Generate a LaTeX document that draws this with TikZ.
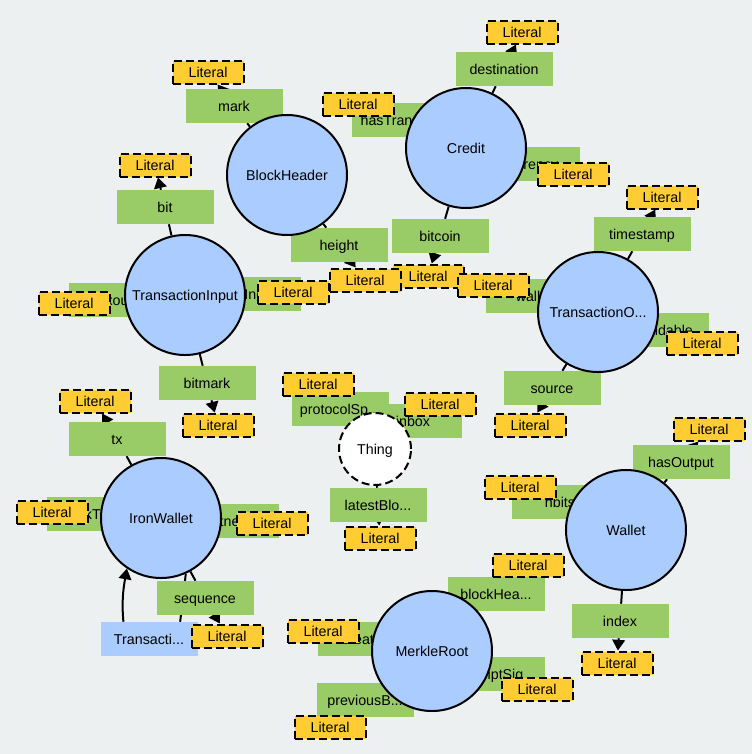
\documentclass[tikz,border=0pt]{standalone}
\usepackage{fontspec}
\setmainfont{Liberation Sans}
\usetikzlibrary{arrows.meta, backgrounds}

\definecolor{bgcol}{HTML}{ECF0F1}
\definecolor{classblue}{HTML}{AACCFF}
\definecolor{propgreen}{HTML}{99CC66}
\definecolor{lityellow}{HTML}{FFCC33}

\begin{document}
\begin{tikzpicture}[x=0.75pt, y=-0.75pt,
  font=\fontsize{10.7}{12}\selectfont, text height=8.4pt, text depth=0pt,
  cls/.style={circle, draw=black, line width=1.5pt, fill=classblue, minimum size=90pt, inner sep=0pt},
  thing/.style={circle, draw=black, line width=1.5pt, dash pattern=on 6pt off 3pt, fill=white, minimum size=54pt, inner sep=0pt},
  prop/.style={rectangle, fill=propgreen, minimum width=72.75pt, minimum height=25.5pt, inner sep=0pt},
  objprop/.style={prop, fill=classblue},
  lit/.style={rectangle, fill=lityellow, draw=black, line width=1.5pt, dash pattern=on 6pt off 3pt, minimum width=53.25pt, minimum height=17.25pt, inner sep=0pt},
  link/.style={line width=1.5pt},
  arr/.style={link, -{Triangle[length=8pt, width=9.5pt]}}]

  \useasboundingbox (0,0) rectangle (752,754);

  % Draw property labels
  \node[prop] (mark) at (234,106) {mark};
  \node[prop] (hastx) at (400,120) {hasTransa...};
  \node[prop] (dest) at (504,69) {destination};
  \node[prop] (currency) at (531,164) {currency};
  \node[prop] (btc) at (440,236) {bitcoin};
  \node[prop] (height) at (339,245) {height};
  \node[prop] (bit) at (165,207) {bit};
  \node[prop] (txout) at (117,300) {txout};
  \node[prop] (outidx) at (252,294) {outIndex};
  \node[prop] (bitmark) at (207,383) {bitmark};
  \node[prop] (wallet) at (534,296) {wallet};
  \node[prop] (tstamp) at (642,234) {timestamp};
  \node[prop] (spend) at (660,330) {spendable};
  \node[prop] (source) at (552,388) {source};
  \node[prop] (tx) at (117,439) {tx};
  \node[prop] (lock) at (95,514) {lockTime};
  \node[prop] (witness) at (230,521) {witness};
  \node[prop] (seq) at (205,598) {sequence};
  \node[objprop] (loop) at (149,639) {Transacti...};
  \node[prop] (inbox) at (413,421) {inbox};
  \node[prop] (proto) at (340,409) {protocolSp...};
  \node[prop] (latest) at (378,505) {latestBlo...};
  \node[prop] (hasout) at (681,462) {hasOutput};
  \node[prop] (nbits) at (560,502) {nbits};
  \node[prop] (index) at (620,621) {index};
  \node[prop] (bhead) at (496,594) {blockHea...};
  \node[prop] (created) at (366,639) {created};
  \node[prop] (sig) at (496,674) {scriptSig};
  \node[prop] (prevb) at (365,700) {previousB...};

  % Draw literals
  \node[lit] (lmark) at (208,72) {Literal};
  \node[lit] (lhastx) at (358,104) {Literal};
  \node[lit] (ldest) at (522,32) {Literal};
  \node[lit] (lcurrency) at (573,174) {Literal};
  \node[lit] (lbtc) at (428,276) {Literal};
  \node[lit] (lheight) at (365,280) {Literal};
  \node[lit] (lwallet) at (493,285) {Literal};
  \node[lit] (loutidx) at (293,292) {Literal};
  \node[lit] (lbit) at (155,165) {Literal};
  \node[lit] (ltxout) at (74,303) {Literal};
  \node[lit] (lbitmark) at (218,425) {Literal};
  \node[lit] (ltstamp) at (662,197) {Literal};
  \node[lit] (lspend) at (702,343) {Literal};
  \node[lit] (lsource) at (530,425) {Literal};
  \node[lit] (ltx) at (95,401) {Literal};
  \node[lit] (llock) at (52,512) {Literal};
  \node[lit] (lwitness) at (272,523) {Literal};
  \node[lit] (lseq) at (227,636) {Literal};
  \node[lit] (lproto) at (318,384) {Literal};
  \node[lit] (linbox) at (440,404) {Literal};
  \node[lit] (llatest) at (380,538) {Literal};
  \node[lit] (lhasout) at (709,429) {Literal};
  \node[lit] (lnbits) at (520,487) {Literal};
  \node[lit] (lindex) at (617,663) {Literal};
  \node[lit] (lbhead) at (528,565) {Literal};
  \node[lit] (lcreated) at (323,631) {Literal};
  \node[lit] (lsig) at (537,689) {Literal};
  \node[lit] (lprevb) at (330,727) {Literal};

  % Draw classes
  \node[cls] (bh) at (287,175) {BlockHeader};
  \node[cls] (credit) at (466,148) {Credit};
  \node[cls] (tin) at (185,295) {TransactionInput};
  \node[cls] (tout) at (598,312) {TransactionO...};
  \node[cls] (iron) at (161,518) {IronWallet};
  \node[cls] (wal) at (626,530) {Wallet};
  \node[cls] (merkle) at (432,651) {MerkleRoot};
  \node[thing] (thing) at (375,449) {Thing};

  \begin{scope}[on background layer]
    \fill[bgcol] (0,0) rectangle (752,754);

    \draw[link] (bh) -- (mark);     \draw[arr] (mark) -- (lmark);
    \draw[link] (bh) -- (height);   \draw[arr] (height) -- (lheight);

    \draw[link] (credit) -- (hastx);    \draw[arr] (hastx) -- (lhastx);
    \draw[link] (credit) -- (dest);     \draw[arr] (dest) -- (ldest);
    \draw[link] (credit) -- (currency); \draw[arr] (currency) -- (lcurrency);
    \draw[link] (credit) -- (btc);      \draw[arr] (btc) -- (lbtc);

    \draw[link] (tin) -- (bit);     \draw[arr] (bit) -- (lbit);
    \draw[link] (tin) -- (txout);   \draw[arr] (txout) -- (ltxout);
    \draw[link] (tin) -- (outidx);  \draw[arr] (outidx) -- (loutidx);
    \draw[link] (tin) -- (bitmark); \draw[arr] (bitmark) -- (lbitmark);

    \draw[link] (tout) -- (wallet); \draw[arr] (wallet) -- (lwallet);
    \draw[link] (tout) -- (tstamp); \draw[arr] (tstamp) -- (ltstamp);
    \draw[link] (tout) -- (spend);  \draw[arr] (spend) -- (lspend);
    \draw[link] (tout) -- (source); \draw[arr] (source) -- (lsource);

    \draw[link] (iron) -- (tx);      \draw[arr] (tx) -- (ltx);
    \draw[link] (iron) -- (lock);    \draw[arr] (lock) -- (llock);
    \draw[link] (iron) -- (witness); \draw[arr] (witness) -- (lwitness);
    \draw[link] (iron) -- (seq);     \draw[arr] (seq) -- (lseq);
    % self loop
    \draw[link] (iron.-66) -- (loop.29);
    \draw[arr] (loop.146) to[out=95, in=-100] (iron.-124);

    \draw[link] (thing) -- (proto);  \draw[arr] (proto) -- (lproto);
    \draw[link] (thing) -- (inbox);  \draw[arr] (inbox) -- (linbox);
    \draw[link] (thing) -- (latest); \draw[arr] (latest) -- (llatest);

    \draw[link] (wal) -- (hasout); \draw[arr] (hasout) -- (lhasout);
    \draw[link] (wal) -- (nbits);  \draw[arr] (nbits) -- (lnbits);
    \draw[link] (wal) -- (index);  \draw[arr] (index) -- (lindex);

    \draw[link] (merkle) -- (bhead);   \draw[arr] (bhead) -- (lbhead);
    \draw[link] (merkle) -- (created); \draw[arr] (created) -- (lcreated);
    \draw[link] (merkle) -- (sig);     \draw[arr] (sig) -- (lsig);
    \draw[link] (merkle) -- (prevb);   \draw[arr] (prevb) -- (lprevb);
  \end{scope}

\end{tikzpicture}
\end{document}
